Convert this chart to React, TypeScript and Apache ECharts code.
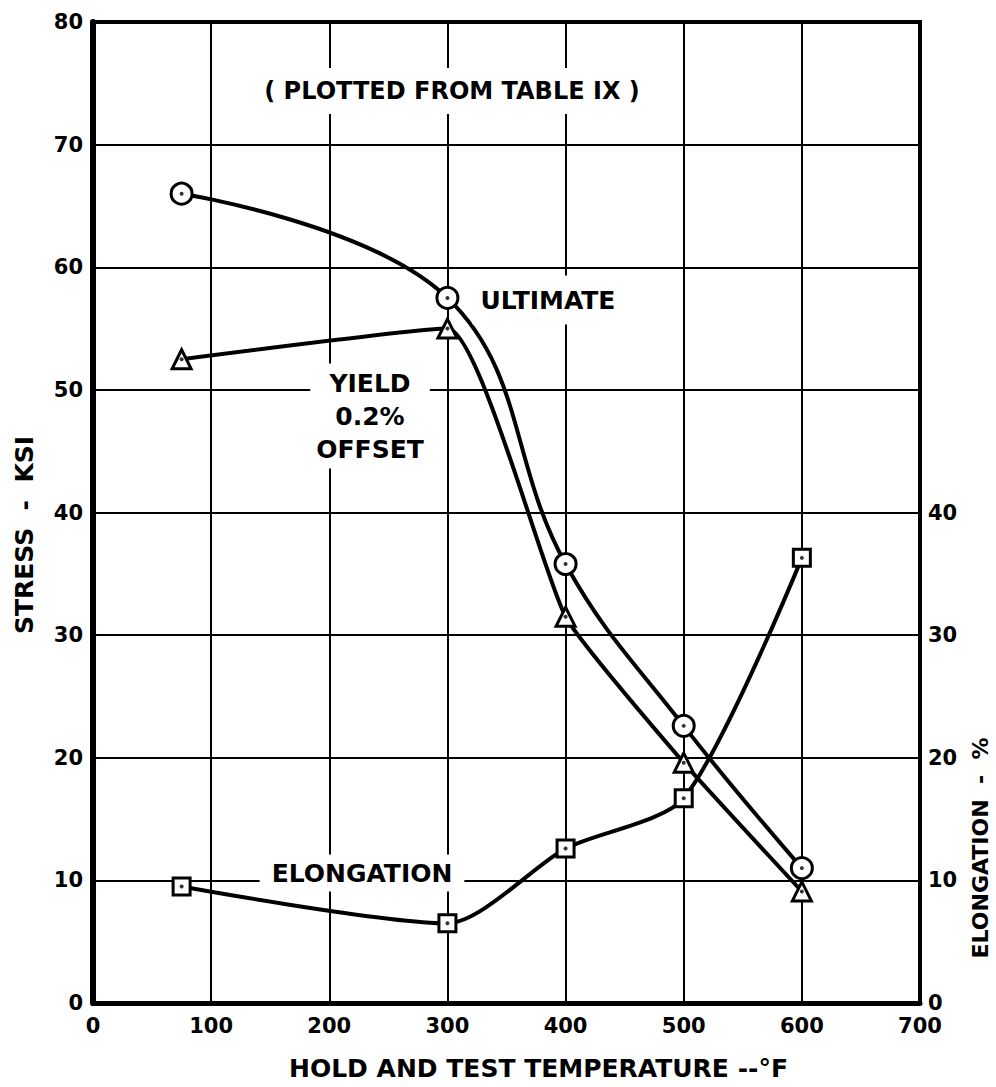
import React, { useEffect, useRef } from "react";
import * as echarts from "echarts";

const temps = [75, 300, 400, 500, 600];
const ultimate = [66.0, 57.5, 35.8, 22.6, 11.0];
const yieldStress = [52.5, 55.0, 31.5, 19.6, 9.1];
const elongation = [9.5, 6.5, 12.6, 16.7, 36.3];
const xTicks = { min: 0, max: 700, interval: 100 };
const yTicks = { min: 0, max: 80, interval: 10 };
const rightMaxLabel = 40;

const FONT = "'DejaVu Sans', 'Liberation Sans', sans-serif";

function pairs(ys: number[]) {
  return temps.map((t, i) => [t, ys[i]]);
}

export default function App() {
  const ref = useRef<HTMLDivElement>(null);
  useEffect(() => {
    if (!ref.current) return;
    const chart = echarts.init(ref.current, undefined, { renderer: "svg" });
    const markerStyle = { color: "#fff", borderColor: "#000", borderWidth: 3 };
    const lineStyle = { color: "#000", width: 4 };
    const dot = (ys: number[], yAxisIndex: number) => ({
      type: "scatter",
      data: pairs(ys),
      yAxisIndex,
      symbol: "circle",
      symbolSize: 4,
      itemStyle: { color: "#000" },
      silent: true,
      z: 5,
    });
    const textBase = {
      fontFamily: FONT,
      fontWeight: "bold",
      fill: "#000",
      backgroundColor: "#fff",
    };
    const tickLabel = { fontFamily: FONT, fontWeight: "bold", fontSize: 21, color: "#000" };
    chart.setOption({
      animation: false,
      backgroundColor: "#fff",
      grid: {
        left: 93,
        right: 76,
        top: 22,
        bottom: 84,
        show: true,
        borderColor: "#000",
        borderWidth: 4,
      },
      xAxis: {
        type: "value",
        min: xTicks.min,
        max: xTicks.max,
        interval: xTicks.interval,
        name: "HOLD AND TEST TEMPERATURE --°F",
        nameLocation: "middle",
        nameGap: 53,
        nameTextStyle: {
          fontFamily: FONT,
          fontWeight: "bold",
          fontSize: 25,
          color: "#000",
          padding: [0, 0, 0, 64],
        },
        axisLine: { show: true, lineStyle: { color: "#000", width: 5 } },
        axisTick: { show: false },
        axisLabel: { ...tickLabel, margin: 12 },
        splitLine: { show: true, lineStyle: { color: "#000", width: 2 } },
      },
      yAxis: [
        {
          type: "value",
          min: yTicks.min,
          max: yTicks.max,
          interval: yTicks.interval,
          position: "left",
          axisLine: { show: true, lineStyle: { color: "#000", width: 6 } },
          axisTick: { show: false },
          axisLabel: { ...tickLabel, margin: 10 },
          splitLine: { show: true, lineStyle: { color: "#000", width: 2 } },
        },
        {
          type: "value",
          min: yTicks.min,
          max: yTicks.max,
          interval: yTicks.interval,
          position: "right",
          axisLine: { show: true, lineStyle: { color: "#000", width: 4 } },
          axisTick: { show: false },
          axisLabel: {
            ...tickLabel,
            margin: 8,
            formatter: (v: number) => (v <= rightMaxLabel ? String(v) : ""),
          },
          splitLine: { show: false },
        },
      ],
      series: [
        {
          name: "ULTIMATE",
          type: "line",
          data: pairs(ultimate),
          smooth: 0.4,
          symbol: "circle",
          symbolSize: 21,
          lineStyle,
          itemStyle: markerStyle,
          z: 3,
        },
        {
          name: "YIELD 0.2% OFFSET",
          type: "line",
          data: pairs(yieldStress),
          smooth: 0.15,
          symbol: "triangle",
          symbolSize: 19,
          lineStyle,
          itemStyle: markerStyle,
          z: 3,
        },
        {
          name: "ELONGATION",
          type: "line",
          yAxisIndex: 1,
          data: pairs(elongation),
          smooth: 0.25,
          symbol: "rect",
          symbolSize: 17,
          lineStyle,
          itemStyle: markerStyle,
          z: 3,
        },
        dot(ultimate, 0),
        dot(yieldStress, 0),
        dot(elongation, 1),
      ],
      graphic: [
        {
          type: "text",
          x: 452,
          y: 91,
          z: 10,
          style: {
            ...textBase,
            text: "( PLOTTED FROM TABLE IX )",
            fontSize: 24,
            align: "center",
            verticalAlign: "middle",
            padding: [11, 6],
          },
        },
        {
          type: "text",
          x: 548,
          y: 300,
          z: 10,
          style: {
            ...textBase,
            text: "ULTIMATE",
            fontSize: 25,
            align: "center",
            verticalAlign: "middle",
            padding: [12, 8],
          },
        },
        {
          type: "text",
          x: 370,
          y: 416,
          z: 10,
          style: {
            ...textBase,
            text: "YIELD\n0.2%\nOFFSET",
            fontSize: 25,
            lineHeight: 33,
            align: "center",
            verticalAlign: "middle",
            padding: [3, 6],
          },
        },
        {
          type: "text",
          x: 362,
          y: 873,
          z: 10,
          style: {
            ...textBase,
            text: "ELONGATION",
            fontSize: 25,
            align: "center",
            verticalAlign: "middle",
            padding: [6, 12],
          },
        },
        {
          type: "text",
          x: 24,
          y: 535,
          rotation: Math.PI / 2,
          z: 10,
          style: {
            fontFamily: FONT,
            fontWeight: "bold",
            fill: "#000",
            text: "STRESS  -  KSI",
            fontSize: 25,
            align: "center",
            verticalAlign: "middle",
          },
        },
        {
          type: "text",
          x: 980,
          y: 848,
          rotation: Math.PI / 2,
          z: 10,
          style: {
            fontFamily: FONT,
            fontWeight: "bold",
            fill: "#000",
            text: "ELONGATION  -  %",
            fontSize: 22,
            align: "center",
            verticalAlign: "middle",
          },
        },
      ],
    });
    return () => chart.dispose();
  }, []);
  return (
    <div
      ref={ref}
      style={{ position: "absolute", left: 0, top: 0, width: 996, height: 1087, background: "#fff" }}
    />
  );
}
